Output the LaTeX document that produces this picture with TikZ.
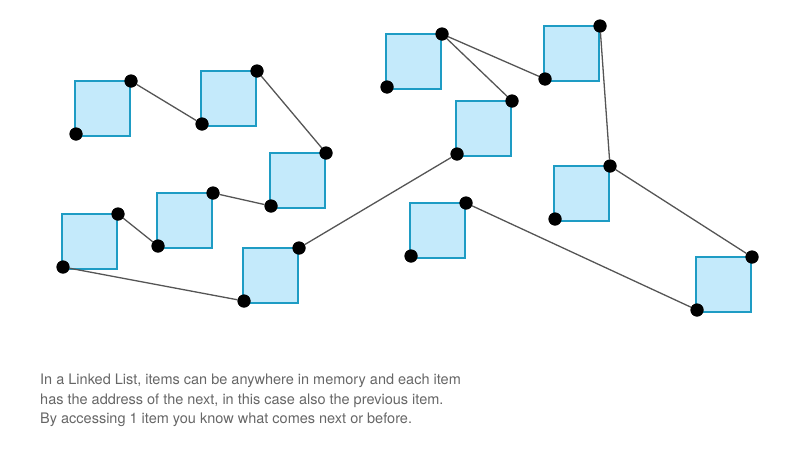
\documentclass[tikz,border=0pt]{standalone}
\usepackage{fontspec}
\setmainfont{TeX Gyre Heros}
\begin{document}
\begin{tikzpicture}[x=1pt,y=-1pt,
  box/.style={draw=boxline,fill=boxfill,line width=1.2pt},
  dot/.style={circle,fill=black,inner sep=0pt,minimum size=13pt},
  link/.style={draw=linkgray,line width=1.3pt}]
\definecolor{boxfill}{HTML}{C4EAFB}
\definecolor{boxline}{HTML}{1E9CC4}
\definecolor{linkgray}{HTML}{555555}
\definecolor{txt}{HTML}{666666}
\useasboundingbox (0,0) rectangle (800,461);
\foreach \n/\x/\y in {a/75/81, b/201/71, c/270/153, d/157/193, e/62/214, f/243/248,
  g/456/101, h/386/34, i/544/26, j/554/166, k/410/203, l/696/257}{
  \draw[box] (\x,\y) rectangle ++(55,55);
  \node[dot] (\n t) at (\x+56,\y) {};
  \node[dot] (\n b) at (\x+1,\y+53) {};
}
\draw[link] (at) -- (bb);
\draw[link] (bt) -- (ct);
\draw[link] (cb) -- (dt);
\draw[link] (db) -- (et);
\draw[link] (eb) -- (fb);
\draw[link] (ft) -- (gb);
\draw[link] (gt) -- (ht);
\draw[link] (ht) -- (ib);
\draw[link] (it) -- (jt);
\draw[link] (jt) -- (lt);
\draw[link] (lb) -- (kt);
\foreach \n in {a,b,c,d,e,f,g,h,i,j,k,l}{
  \fill (\n t) circle (6.5pt); \fill (\n b) circle (6.5pt);}
\node[anchor=north west,text=txt,font=\fontsize{14.5}{19.5}\selectfont,align=left,inner sep=0pt] (cap) at (40,374)
{In a Linked List, items can be anywhere in memory and each item\\
has the address of the next, in this case also the previous item.\\
By accessing 1 item you know what comes next or before.};
\end{tikzpicture}
\end{document}
